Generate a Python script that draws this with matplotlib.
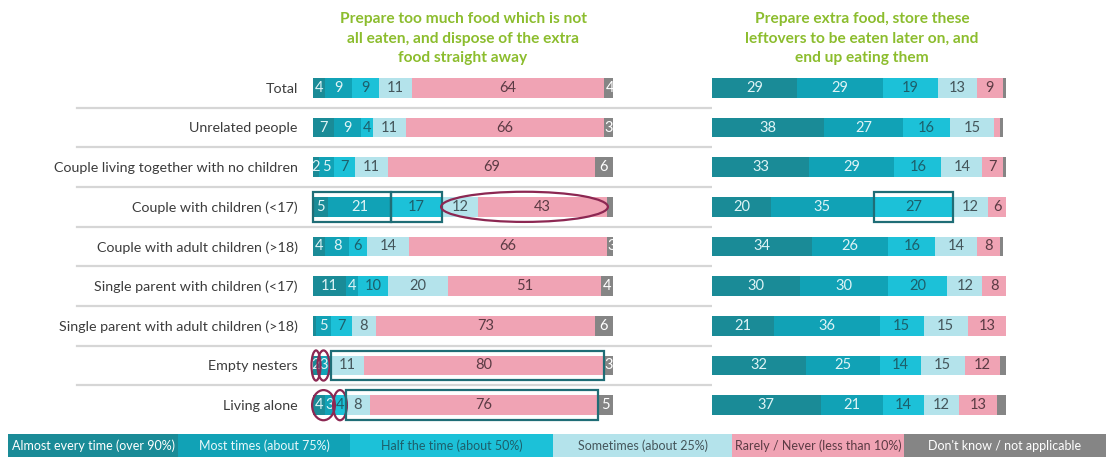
import numpy as np
import matplotlib.pyplot as plt
import matplotlib.transforms as mtransforms
from matplotlib.patches import Rectangle, Ellipse

plt.rcParams['font.family'] = ['Lato', 'DejaVu Sans']

# household groups (top to bottom)
groups = ["Total", "Unrelated people", "Couple living together with no children",
          "Couple with children (<17)", "Couple with adult children (>18)",
          "Single parent with children (<17)", "Single parent with adult children (>18)",
          "Empty nesters", "Living alone"]

responses = ["Almost every time (over 90%)", "Most times (about 75%)",
             "Half the time (about 50%)", "Sometimes (about 25%)",
             "Rarely / Never (less than 10%)", "Don't know / not applicable"]

# columns follow the response order above
dispose_vals = np.array([
    [4, 9, 9, 11, 64, 4],
    [7, 9, 4, 11, 66, 3],
    [2, 5, 7, 11, 69, 6],
    [5, 21, 17, 12, 43, 2],
    [4, 8, 6, 14, 66, 3],
    [11, 4, 10, 20, 51, 4],
    [1, 5, 7, 8, 73, 6],
    [2, 3, 1, 11, 80, 3],
    [4, 3, 4, 8, 76, 5],
])

leftover_vals = np.array([
    [29, 29, 19, 13, 9, 1],
    [38, 27, 16, 15, 2, 1],
    [33, 29, 16, 14, 7, 1],
    [20, 35, 27, 12, 6, 1],
    [34, 26, 16, 14, 8, 1],
    [30, 30, 20, 12, 8, 0],
    [21, 36, 15, 15, 13, 0],
    [32, 25, 14, 15, 12, 2],
    [37, 21, 14, 12, 13, 3],
])

titles = ["Prepare too much food which is not\nall eaten, and dispose of the extra\nfood straight away",
          "Prepare extra food, store these\nleftovers to be eaten later on, and\nend up eating them"]

colors = ['#1a8b97', '#11a2b6', '#1cc1d8', '#b4e3eb', '#f0a3b4', '#858585']
num_colors = ['#dff4f6', '#dff4f6', '#1d5f6b', '#44555a', '#5b3b44', '#ffffff']
legend_text_colors = ['#ffffff', '#e8f8fa', '#1d5f6b', '#44555a', '#5b3b44', '#ffffff']
# smallest value that gets a number, per response column
min_label_left = [2, 2, 2, 2, 2, 3]
min_label_right = [5, 5, 5, 5, 5, 5]

W, H = 1106, 459
fig = plt.figure(figsize=(W / 100, H / 100), dpi=100)


def px_axes(x0, x1, y0, y1):
    return fig.add_axes([x0 / W, 1 - y1 / H, (x1 - x0) / W, (y1 - y0) / H])


ax_l = px_axes(313, 613, 68, 425)
ax_r = px_axes(712, 1006, 68, 425)

ypos = np.arange(len(groups))


def draw_panel(ax, vals, min_label):
    left = np.zeros(len(groups))
    for j, c in enumerate(colors):
        ax.barh(ypos, vals[:, j], left=left, height=0.5, color=c, linewidth=0)
        for i, v in enumerate(vals[:, j]):
            if v >= min_label[j]:
                ax.text(left[i] + v / 2, i, str(v), ha='center', va='center',
                        color=num_colors[j], fontsize=10.5)
        left += vals[:, j]
    ax.set_xlim(0, 100)
    ax.set_ylim(len(groups) - 0.5, -0.5)
    ax.set_xticks([])
    for s in ax.spines.values():
        s.set_visible(False)


draw_panel(ax_l, dispose_vals, min_label_left)
draw_panel(ax_r, leftover_vals, min_label_right)

ax_l.set_yticks(ypos, groups)
ax_l.tick_params(axis='y', length=0, pad=11, labelsize=10.3, labelcolor='#3c3c3c')
ax_r.set_yticks([])

# separators between rows
blend = mtransforms.blended_transform_factory(fig.transFigure, ax_l.transData)
for i in ypos[:-1]:
    ax_l.plot([77 / W, 926 / W], [i + 0.5, i + 0.5], transform=blend,
              color='#d6d6d6', lw=1.6, clip_on=False)

# panel titles
fig.text(463 / W, 1 - 12 / H, titles[0], ha='center', va='top', color='#8cbd2e',
         fontsize=11.2, fontweight='bold', linespacing=1.5)
fig.text(862 / W, 1 - 12 / H, titles[1], ha='center', va='top', color='#8cbd2e',
         fontsize=11.2, fontweight='bold', linespacing=1.5)


# highlight marks, placed from the cumulative segment edges
def seg_span(vals, row, j0, j1):
    cum = np.concatenate([[0], np.cumsum(vals[row])])
    return cum[j0], cum[j1 + 1]


def box(ax, vals, row, j0, j1):
    a, b = seg_span(vals, row, j0, j1)
    ax.add_patch(Rectangle((a, row - 0.37), b - a, 0.74, fill=False,
                           ec='#1f6d76', lw=1.6, clip_on=False, zorder=5))


def ring(ax, vals, row, j0, j1, pad=0.5):
    a, b = seg_span(vals, row, j0, j1)
    ax.add_patch(Ellipse(((a + b) / 2, row), b - a + 2 * pad, 0.76, fill=False,
                         ec='#8c2752', lw=1.6, clip_on=False, zorder=5))


box(ax_l, dispose_vals, 3, 0, 1)
box(ax_l, dispose_vals, 3, 2, 2)
ring(ax_l, dispose_vals, 3, 3, 4, pad=0.3)
box(ax_r, leftover_vals, 3, 2, 2)
ring(ax_l, dispose_vals, 7, 0, 0)
ring(ax_l, dispose_vals, 7, 1, 1)
box(ax_l, dispose_vals, 7, 3, 4)
ring(ax_l, dispose_vals, 8, 0, 1, pad=0.3)
ring(ax_l, dispose_vals, 8, 2, 2, pad=0.3)
box(ax_l, dispose_vals, 8, 3, 4)

# legend strip along the bottom
legend_edges = [8, 178, 350, 553, 732, 904, 1106]
ly0, ly1 = 434, 457
for k, lab in enumerate(responses):
    x0, x1 = legend_edges[k], legend_edges[k + 1]
    fig.add_artist(Rectangle((x0 / W, 1 - ly1 / H), (x1 - x0) / W, (ly1 - ly0) / H,
                             transform=fig.transFigure, color=colors[k], lw=0))
    fig.text((x0 + x1) / 2 / W, 1 - (ly0 + ly1) / 2 / H, lab, ha='center', va='center',
             color=legend_text_colors[k], fontsize=9)

fig.savefig('out.png', dpi=100)
